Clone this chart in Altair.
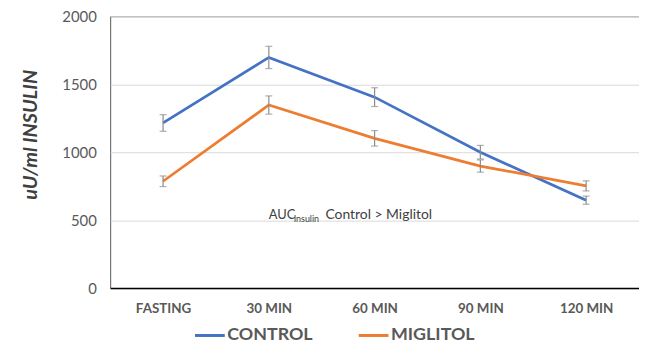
import altair as alt
import pandas as pd

categories = ["FASTING", "30 MIN", "60 MIN", "90 MIN", "120 MIN"]
series_names = ["CONTROL", "MIGLITOL"]
control = [1215, 1697, 1405, 1000, 647]
control_err = [61, 82, 69, 50, 30]
miglitol = [786, 1347, 1102, 898, 752]
miglitol_err = [39, 67, 57, 45, 37]
y_ticks = [0, 500, 1000, 1500, 2000]
colors = ["#4472C4", "#ED7D31"]
title_text = "RESPONSE TO OGT"
note_main = "AUC"
note_sub = "Insulin"
note_rest = "Control > Miglitol"
note_pos = ["30 MIN", 540]

rows = []
for name, vals, errs in [("CONTROL", control, control_err), ("MIGLITOL", miglitol, miglitol_err)]:
    for c, v, e in zip(categories, vals, errs):
        rows.append({"time": c, "series": name, "value": v, "lo": v - e, "hi": v + e})
df = pd.DataFrame(rows)
note_df = pd.DataFrame([{"time": note_pos[0], "v": note_pos[1]}])

FONT = "Lato"
GRAY = "#595959"

xenc = alt.X(
    "time:N", sort=categories,
    scale=alt.Scale(type="point", padding=0.5),
    axis=alt.Axis(title=None, labelAngle=0, labelFont=FONT, labelFontSize=13.5,
                  labelFontWeight="bold", labelColor=GRAY, labelPadding=14,
                  ticks=False, domainColor="#000000", domainWidth=1.5),
)
yscale = alt.Scale(domain=[0, 2000], nice=False, zero=True)
yenc = alt.Y(
    "value:Q", scale=yscale,
    axis=alt.Axis(title="uU/ml INSULIN", values=y_ticks, format="d", grid=True, gridColor="#d9d9d9",
                  gridWidth=1, domain=False, ticks=False, labelFont=FONT, labelFontSize=15,
                  labelColor=GRAY, labelPadding=14, titleFont=FONT, titleFontSize=20,
                  titleFontWeight="bold", titleFontStyle="italic", titleColor="#404040",
                  titleAngle=-90, titleX=-80, titleY=119, titleAlign="center",
                  titleBaseline="middle"),
)
color = alt.Color(
    "series:N", scale=alt.Scale(domain=series_names, range=colors),
    legend=alt.Legend(title=None, orient="none", direction="horizontal", legendX=84, legendY=305,
                      padding=0, symbolType="stroke", symbolSize=900, symbolStrokeWidth=3,
                      labelFont=FONT, labelFontSize=18, labelFontWeight="bold",
                      labelColor=GRAY, labelOffset=1, columnPadding=39),
)

base = alt.Chart(df)
lines = base.mark_line(strokeWidth=2.75).encode(x=xenc, y=yenc, color=color)
rules = base.mark_rule(color="#8c8c8c", strokeWidth=1.2).encode(
    x=alt.X("time:N", sort=categories), y=alt.Y("lo:Q", scale=yscale), y2="hi:Q")
cap_lo = base.mark_tick(color="#8c8c8c", thickness=1.2, size=7).encode(
    x=alt.X("time:N", sort=categories), y=alt.Y("lo:Q", scale=yscale))
cap_hi = base.mark_tick(color="#8c8c8c", thickness=1.2, size=7).encode(
    x=alt.X("time:N", sort=categories), y=alt.Y("hi:Q", scale=yscale))

nbase = alt.Chart(note_df).encode(
    x=alt.X("time:N", sort=categories), y=alt.Y("v:Q", scale=yscale))
t1 = nbase.mark_text(text=note_main, align="left", baseline="middle", font=FONT,
                     fontSize=13, color="#404040", dx=0)
t2 = nbase.mark_text(text=note_sub, align="left", baseline="middle", font=FONT,
                     fontSize=9, color="#404040", dx=25, dy=4)
t3 = nbase.mark_text(text=note_rest, align="left", baseline="middle", font=FONT,
                     fontSize=14, color="#404040", dx=57)

chart = alt.layer(lines, rules, cap_lo, cap_hi, t1, t2, t3).properties(
    width=533, height=274,
    title=alt.TitleParams(title_text, anchor="start", dx=131, offset=1, baseline="alphabetic",
                          font=FONT, fontSize=15, fontWeight="bold", color=GRAY),
    autosize=alt.AutoSizeParams(type="none"),
    padding={"left": 103, "top": 7, "right": 0, "bottom": 53},
).configure_view(stroke=GRAY, strokeWidth=1)

chart.save("out.html", embed_options={"renderer": "svg", "actions": False})
